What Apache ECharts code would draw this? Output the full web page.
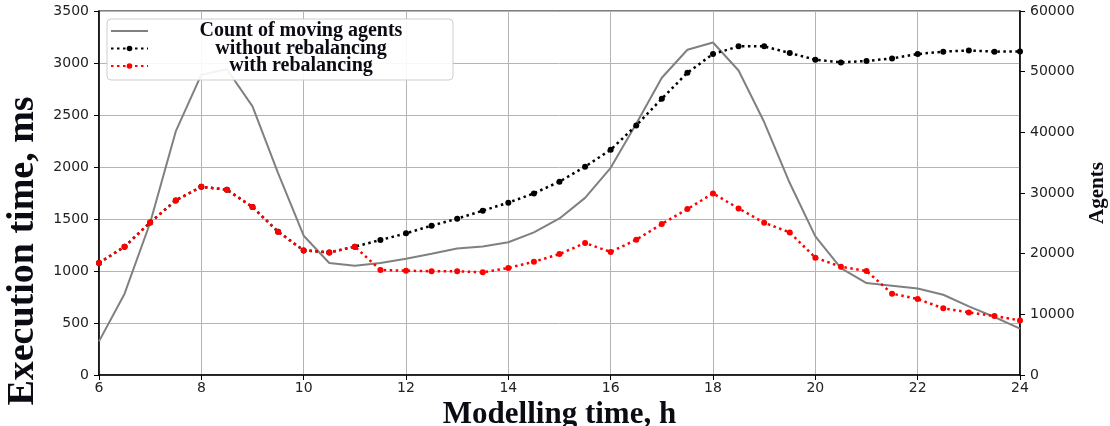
<!DOCTYPE html>
<html>
<head>
<meta charset="utf-8">
<script src="https://cdn.jsdelivr.net/npm/echarts@6/dist/echarts.min.js"></script>
<style>html,body{margin:0;padding:0;background:#fff;}#c{width:1110px;height:426px;}</style>
</head>
<body>
<div id="c"></div>
<script>
const hours = [6,6.5,7,7.5,8,8.5,9,9.5,10,10.5,11,11.5,12,12.5,13,13.5,14,14.5,15,15.5,16,16.5,17,17.5,18,18.5,19,19.5,20,20.5,21,21.5,22,22.5,23,23.5,24];
const agents = [5540,13400,25100,40150,49500,50400,44270,33290,22960,18460,18010,18460,19170,19990,20860,21190,21880,23500,25800,29200,34150,41400,49000,53610,54810,50200,41700,31640,22840,17630,15160,14720,14270,13230,11310,9560,7630];
const withoutRebal = [1077,1234,1467,1679,1810,1782,1615,1378,1198,1179,1234,1298,1362,1436,1503,1580,1657,1746,1859,2003,2166,2400,2657,2907,3086,3160,3160,3096,3032,3006,3019,3044,3086,3109,3121,3109,3111];
const withRebal = [1077,1234,1467,1679,1810,1782,1615,1378,1198,1179,1234,1010,1003,998,998,987,1029,1089,1163,1269,1183,1301,1452,1596,1746,1602,1464,1371,1128,1041,1000,782,731,641,602,567,525];
const names = ['Count of moving agents','without rebalancing','with rebalancing'];

const pairs = arr => hours.map((h,i)=>[h,arr[i]]);
const tickFont = {fontFamily:'DejaVu Sans', fontSize:14, color:'#222', formatter: v => String(v)};
const titleFont = {fontFamily:'Liberation Serif', fontWeight:'bold', color:'#0b0b14'};

const chart = echarts.init(document.getElementById('c'), null, {renderer:'canvas'});
chart.setOption({
  animation:false,
  backgroundColor:'#fff',
  grid:{left:99,right:90,top:11,bottom:51,outerBoundsMode:'none',containLabel:false,show:true,borderColor:'#000',borderWidth:1.2,backgroundColor:'transparent'},
  legend:{
    orient:'vertical', left:107, top:19,
    padding:[2,4,4,3], itemGap:-2.5, itemWidth:37, itemHeight:7,
    backgroundColor:'rgba(255,255,255,0.9)', borderColor:'#cfcfcf', borderWidth:1, borderRadius:4,
    data:[{name:names[0], itemStyle:{color:'rgba(0,0,0,0)', borderWidth:0}}, names[1], names[2]],
    formatter: n => '{t|'+n+'}',
    textStyle:Object.assign({fontSize:20,lineHeight:17.5,rich:{t:Object.assign({width:296,align:'center',fontSize:20,lineHeight:17.5},titleFont)}},titleFont)
  },
  xAxis:{
    type:'value', min:6, max:24, interval:2,
    name:'Modelling time, h', nameLocation:'middle', nameGap:21,
    nameTextStyle:Object.assign({fontSize:31},titleFont),
    axisLine:{show:true,lineStyle:{color:'#000',width:1.5}},
    axisTick:{show:true,inside:false,length:5,lineStyle:{color:'#000'}},
    axisLabel:Object.assign({margin:6},tickFont),
    splitLine:{show:true,lineStyle:{color:'#b4b4b4',width:1}}
  },
  yAxis:[{
    type:'value', min:0, max:3500, interval:500, position:'left',
    name:'Execution time, ms', nameLocation:'middle', nameRotate:90, nameGap:53,
    nameTextStyle:Object.assign({fontSize:38, padding:[0,116,0,0]},titleFont),
    axisLine:{show:true,lineStyle:{color:'#000',width:1.5}},
    axisTick:{show:true,length:5,lineStyle:{color:'#000'}},
    axisLabel:Object.assign({margin:10},tickFont),
    splitLine:{show:true,lineStyle:{color:'#b4b4b4',width:1}}
  },{
    type:'value', min:0, max:60000, interval:10000, position:'right',
    name:'Agents', nameLocation:'middle', nameRotate:90, nameGap:67,
    nameTextStyle:Object.assign({fontSize:21},titleFont),
    axisLine:{show:true,lineStyle:{color:'#000',width:1.5}},
    axisTick:{show:true,length:5,lineStyle:{color:'#000'}},
    axisLabel:Object.assign({margin:10},tickFont),
    splitLine:{show:false}
  }],
  series:[{
    name:names[0], type:'line', yAxisIndex:1, data:pairs(agents),
    symbol:'none', lineStyle:{color:'#808080',width:2}, itemStyle:{color:'#808080'}, z:2
  },{
    name:names[1], type:'line', yAxisIndex:0, data:pairs(withoutRebal),
    symbol:'circle', symbolSize:6, itemStyle:{color:'#000'},
    lineStyle:{color:'#000',width:2.5,type:[2.5,3.5]}, z:3
  },{
    name:names[2], type:'line', yAxisIndex:0, data:pairs(withRebal),
    symbol:'circle', symbolSize:6, itemStyle:{color:'#ff0000'},
    lineStyle:{color:'#ff0000',width:2.5,type:[2.5,3.5]}, z:4
  }]
});
</script>
</body>
</html>
